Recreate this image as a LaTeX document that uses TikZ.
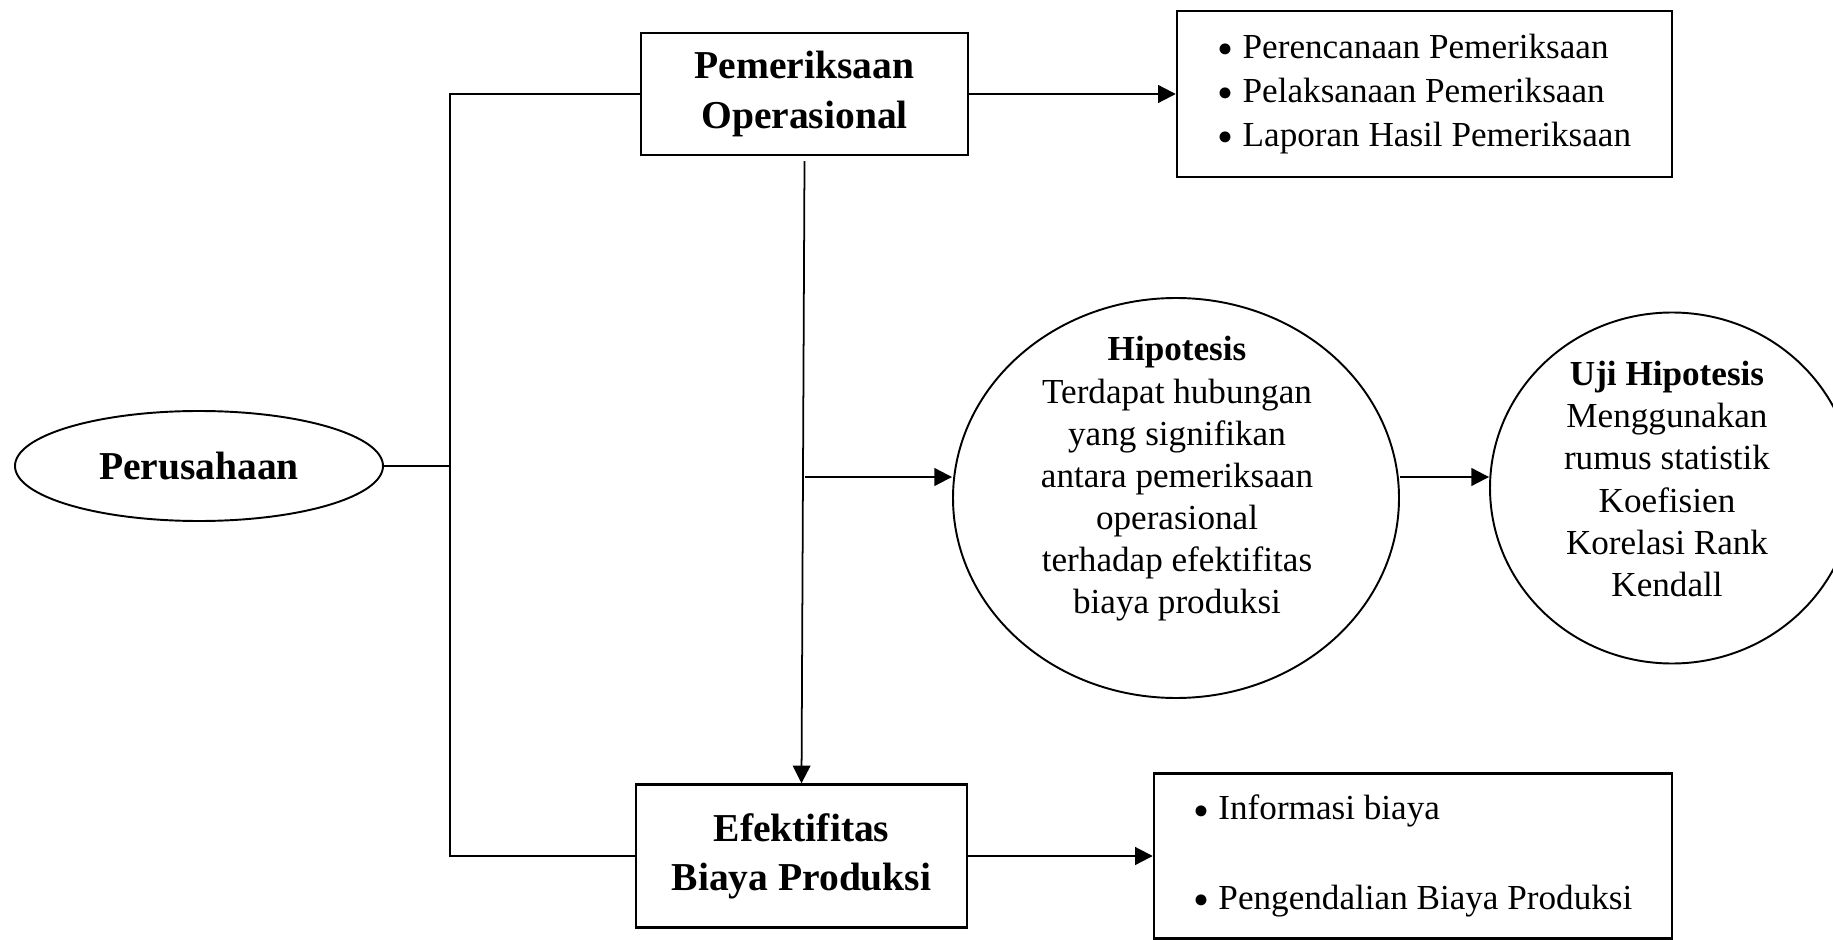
\documentclass[tikz,border=0pt]{standalone}
\usepackage{fontspec}
\usepackage{graphicx}
\setmainfont{Liberation Serif}
\usetikzlibrary{arrows.meta,positioning,shapes.geometric}
\newcommand{\titik}{\raisebox{-0.4ex}{\scalebox{1.3}{\textbullet}}\ }

\begin{document}
\begin{tikzpicture}[
  box/.style={draw, line width=1.4pt, align=center, font=\fontsize{22.5}{28}\selectfont\bfseries},
  listbox/.style={draw, line width=1.4pt, align=left, font=\fontsize{20}{25}\selectfont},
  oval/.style={draw, ellipse, line width=1.1pt, inner sep=0pt},
  oval text/.style={align=center, font=\fontsize{20}{24}\selectfont},
  line/.style={line width=1.2pt},
  arrow/.style={-{Triangle[length=10pt, width=10pt]}, line width=1.2pt}
]
\useasboundingbox (0,0) rectangle (36.66,-18.8);

\node[oval, minimum width=7.36cm, minimum height=2.2cm, font=\fontsize{22.5}{28}\selectfont\bfseries] (perusahaan) at (3.98,-9.32) {Perusahaan};

\node[box, minimum width=6.54cm, minimum height=2.44cm] (pemeriksaan) at (16.09,-1.88) {Pemeriksaan\\Operasional};

\node[box, minimum width=6.62cm, minimum height=2.86cm] (efektifitas) at (16.03,-17.12) {Efektifitas\\Biaya Produksi};

\node[listbox, minimum width=9.9cm, minimum height=3.32cm] (listatas) at (28.49,-1.88) {\titik Perencanaan Pemeriksaan\\\titik Pelaksanaan Pemeriksaan\\\titik Laporan Hasil Pemeriksaan};

\node[listbox, minimum width=10.36cm, minimum height=3.3cm] (listbawah) at (28.26,-17.12) {\titik Informasi biaya\\[26pt]\titik Pengendalian Biaya Produksi};

\node[oval, minimum width=8.92cm, minimum height=8.0cm] (hipotesis) at (23.52,-9.96) {};
\node[oval text] (hipotesistext) at (23.54,-9.58) {\textbf{Hipotesis}\\Terdapat hubungan\\yang signifikan\\antara pemeriksaan\\operasional\\terhadap efektifitas\\biaya produksi};

\node[oval, minimum width=7.28cm, minimum height=7.02cm] (uji) at (33.44,-9.76) {};
\node[oval text] (ujitext) at (33.34,-9.58) {\textbf{Uji Hipotesis}\\Menggunakan\\rumus statistik\\Koefisien\\Korelasi Rank\\Kendall};

\coordinate (trunk) at (9.0,0);
\coordinate (cabang) at (16.1,-9.54);

\draw[line] (perusahaan.east) -- (perusahaan.east -| trunk);
\draw[line] (pemeriksaan.west) -| (trunk |- efektifitas.west) -- (efektifitas.west);
\draw[arrow] (pemeriksaan.east) -- (listatas.west);
\draw[arrow, line width=1pt] ([yshift=-0.1cm]pemeriksaan.south) -- (efektifitas.north);
\draw[arrow] (cabang) -- (cabang -| hipotesis.west);
\draw[arrow] (cabang -| hipotesis.east) -- (cabang -| uji.west);
\draw[arrow] (efektifitas.east) -- (listbawah.west);

\end{tikzpicture}
\end{document}
